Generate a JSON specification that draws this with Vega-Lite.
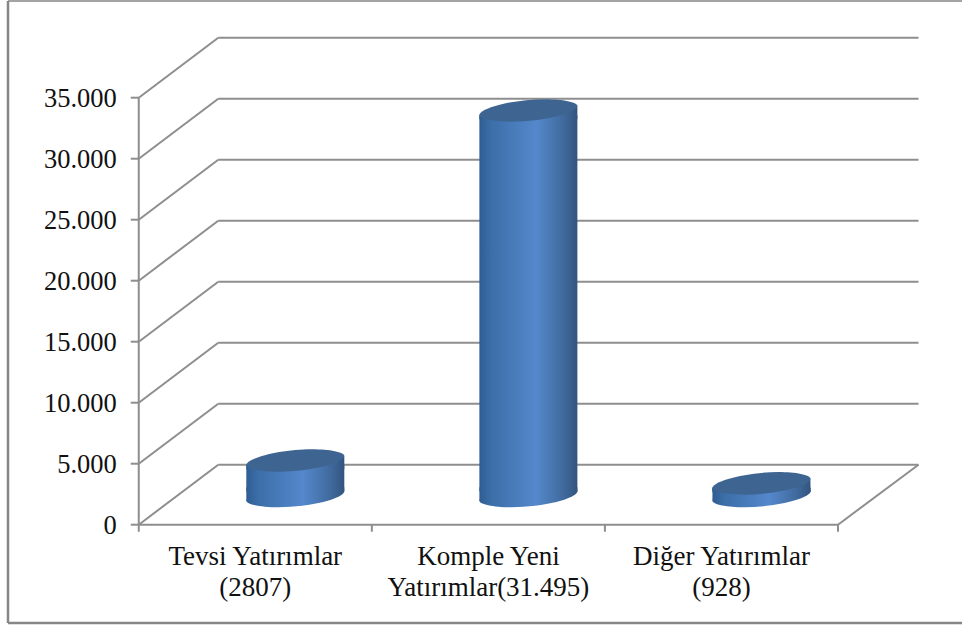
{
"$schema":"https://vega.github.io/schema/vega-lite/v6.json",
"width":954,"height":622,
"padding":{"left":8,"top":1,"right":0,"bottom":2},
"autosize":{"type":"none"},
"background":"white",
"config":{"view":{"stroke":null}},
"datasets":{
"yatirim":[
{"kategori":"Tevsi Yatırımlar\n(2807)","sira":0,"deger":2807},
{"kategori":"Komple Yeni\nYatırımlar(31.495)","sira":1,"deger":31495},
{"kategori":"Diğer Yatırımlar\n(928)","sira":2,"deger":928}],
"izgara":[{"v":0,"etiket":"0"},{"v":5000,"etiket":"5.000"},{"v":10000,"etiket":"10.000"},{"v":15000,"etiket":"15.000"},{"v":20000,"etiket":"20.000"},{"v":25000,"etiket":"25.000"},{"v":30000,"etiket":"30.000"},{"v":35000,"etiket":"35.000"}],
"bolme":[{"s":-0.5},{"s":0.5},{"s":1.5},{"s":2.5}],
"tek":[{}]
},
"layer":[
{"data":{"name":"izgara"},
 "mark":{"type":"rule","stroke":"#8e8e8e","strokeWidth":2,"xOffset":79.5,"x2Offset":80.5,"yOffset":-60},
 "encoding":{
  "x":{"datum":-0.5,"type":"quantitative","scale":{"domain":[-1.061,3.032],"nice":false,"zero":false,"padding":0},"axis":null},
  "x2":{"datum":2.5},
  "y":{"field":"v","type":"quantitative","scale":{"domain":[-8057,42926],"nice":false,"zero":false,"padding":0},"axis":null}
 }},
{"data":{"name":"izgara"},
 "mark":{"type":"rule","stroke":"#8e8e8e","strokeWidth":2,"x2Offset":79.5,"y2Offset":-60},
 "encoding":{"x":{"datum":-0.5,"type":"quantitative","axis":null},"x2":{"datum":-0.5},"y":{"field":"v","type":"quantitative","axis":null},"y2":{"field":"v"}}},
{"data":{"name":"izgara"},
 "mark":{"type":"rule","stroke":"#8e8e8e","strokeWidth":2,"x2Offset":-8},
 "encoding":{"x":{"datum":-0.5,"type":"quantitative","axis":null},"x2":{"datum":-0.5},"y":{"field":"v","type":"quantitative","axis":null}}},
{"data":{"name":"bolme"},
 "mark":{"type":"rule","stroke":"#8e8e8e","strokeWidth":2,"y2Offset":7},
 "encoding":{"x":{"field":"s","type":"quantitative","axis":null},"y":{"datum":0,"type":"quantitative","axis":null},"y2":{"datum":0}}},
{"data":{"name":"izgara"},
 "mark":{"type":"text","font":"Liberation Serif","fontSize":26.5,"color":"#111111","align":"right","baseline":"middle","xOffset":-22,"yOffset":1},
 "encoding":{"x":{"datum":-0.5,"type":"quantitative","axis":null},"y":{"field":"v","type":"quantitative","axis":null},"text":{"field":"etiket","type":"nominal"}}},
{"data":{"name":"tek"},
 "mark":{"type":"rule","stroke":"#8e8e8e","strokeWidth":2},
 "encoding":{"x":{"datum":-0.5,"type":"quantitative","axis":null},"y":{"datum":0,"type":"quantitative","axis":null},"y2":{"datum":35000}}},
{"data":{"name":"tek"},
 "mark":{"type":"rule","stroke":"#8e8e8e","strokeWidth":2},
 "encoding":{"x":{"datum":-0.5,"type":"quantitative","axis":null},"x2":{"datum":2.5},"y":{"datum":0,"type":"quantitative","axis":null}}},
{"data":{"name":"tek"},
 "mark":{"type":"rule","stroke":"#8e8e8e","strokeWidth":2,"x2Offset":80.5,"y2Offset":-60},
 "encoding":{"x":{"datum":2.5,"type":"quantitative","axis":null},"x2":{"datum":2.5},"y":{"datum":0,"type":"quantitative","axis":null},"y2":{"datum":0}}},
{"data":{"name":"tek"},
 "mark":{"type":"rule","stroke":"#868686","strokeWidth":2.5},
 "encoding":{"x":{"datum":-1.061,"type":"quantitative","axis":null}}},
{"data":{"name":"tek"},
 "mark":{"type":"rule","stroke":"#868686","strokeWidth":1.5},
 "encoding":{"y":{"datum":42926,"type":"quantitative","axis":null}}},
{"data":{"name":"tek"},
 "mark":{"type":"rule","stroke":"#868686","strokeWidth":2.5},
 "encoding":{"y":{"datum":-8057,"type":"quantitative","axis":null}}},
{"data":{"name":"yatirim"},
 "mark":{"type":"point","filled":true,"opacity":1,"size":9604,"xOffset":40,"yOffset":-28.7,
   "shape":"M-1,0.095 C-1,-0.05 -0.3,-0.23 0.34,-0.23 C0.7,-0.23 1,-0.17 1,-0.095 C1,0.05 0.3,0.23 -0.34,0.23 C-0.7,0.23 -1,0.17 -1,0.095 Z",
   "color":{"gradient":"linear","x1":0,"x2":1,"y1":0,"y2":0,"stops":[{"offset":0,"color":"#2f5d92"},{"offset":0.12,"color":"#3c6ea8"},{"offset":0.58,"color":"#5488cc"},{"offset":0.85,"color":"#416b9f"},{"offset":1,"color":"#32557f"}]}},
 "encoding":{"x":{"field":"sira","type":"quantitative","axis":null},"y":{"datum":0,"type":"quantitative","axis":null}}},
{"data":{"name":"yatirim"},
 "mark":{"type":"bar","orient":"vertical","width":98,"xOffset":40,"yOffset":-25.3,"y2Offset":-33.4,
   "color":{"gradient":"linear","x1":0,"x2":1,"y1":0,"y2":0,"stops":[{"offset":0,"color":"#2f5d92"},{"offset":0.12,"color":"#3c6ea8"},{"offset":0.58,"color":"#5488cc"},{"offset":0.85,"color":"#416b9f"},{"offset":1,"color":"#32557f"}]}},
 "encoding":{"x":{"field":"sira","type":"quantitative","axis":null},"y":{"field":"deger","type":"quantitative","axis":null},"y2":{"datum":0}}},
{"data":{"name":"yatirim"},
 "mark":{"type":"point","filled":true,"opacity":1,"size":9604,"xOffset":40,"yOffset":-28.7,
   "shape":"M-1,-0.18 L1,-0.18 L1,-0.095 L-1,0.095 Z",
   "color":{"gradient":"linear","x1":0,"x2":1,"y1":0,"y2":0,"stops":[{"offset":0,"color":"#2f5d92"},{"offset":0.12,"color":"#3c6ea8"},{"offset":0.58,"color":"#5488cc"},{"offset":0.85,"color":"#416b9f"},{"offset":1,"color":"#32557f"}]}},
 "encoding":{"x":{"field":"sira","type":"quantitative","axis":null},"y":{"datum":0,"type":"quantitative","axis":null}}},
{"data":{"name":"yatirim"},
 "mark":{"type":"point","filled":true,"opacity":1,"size":9604,"xOffset":40,"yOffset":-30,
   "shape":"M-1,0.095 L1,-0.095 L1,0.18 L-1,0.18 Z",
   "color":{"gradient":"linear","x1":0,"x2":1,"y1":0,"y2":0,"stops":[{"offset":0,"color":"#2f5d92"},{"offset":0.12,"color":"#3c6ea8"},{"offset":0.58,"color":"#5488cc"},{"offset":0.85,"color":"#416b9f"},{"offset":1,"color":"#32557f"}]}},
 "encoding":{"x":{"field":"sira","type":"quantitative","axis":null},"y":{"field":"deger","type":"quantitative","axis":null}}},
{"data":{"name":"yatirim"},
 "mark":{"type":"point","filled":true,"opacity":1,"size":9604,"xOffset":40,"yOffset":-30,
   "shape":"M-1,0.095 C-1,-0.05 -0.3,-0.23 0.34,-0.23 C0.7,-0.23 1,-0.17 1,-0.095 C1,0.05 0.3,0.23 -0.34,0.23 C-0.7,0.23 -1,0.17 -1,0.095 Z",
   "color":"#3e6592"},
 "encoding":{"x":{"field":"sira","type":"quantitative","axis":null},"y":{"field":"deger","type":"quantitative","axis":null}}},
{"data":{"name":"yatirim"},
 "mark":{"type":"text","font":"Liberation Serif","fontSize":27,"color":"#111111","lineBreak":"\n","lineHeight":31.5,"align":"center","baseline":"alphabetic","yOffset":40},
 "encoding":{"x":{"field":"sira","type":"quantitative","axis":null},"y":{"datum":0,"type":"quantitative","axis":null},"text":{"field":"kategori","type":"nominal"}}}
]
}
